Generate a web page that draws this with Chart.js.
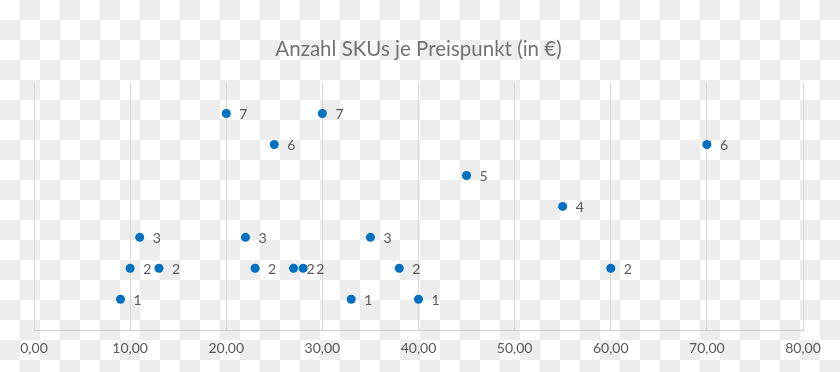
<!DOCTYPE html>
<html>
<head>
<meta charset="utf-8">
<script src="https://cdn.jsdelivr.net/npm/chart.js@4.4.1/dist/chart.umd.min.js"></script>
<style>
  html, body { margin: 0; padding: 0; background: #ffffff; }
  body { width: 840px; height: 372px; overflow: hidden; }
  #wrap { position: relative; width: 840px; height: 372px; }
</style>
</head>
<body>
<div id="wrap"><canvas id="c" width="840" height="372"></canvas></div>
<script>
const chartTitle = 'Anzahl SKUs je Preispunkt (in €)';
const prices = [9, 10, 11, 13, 20, 22, 23, 25, 27, 28, 30, 33, 35, 38, 40, 45, 55, 60, 70];
const skuCounts = [1, 2, 3, 2, 7, 3, 2, 6, 2, 2, 7, 1, 3, 2, 1, 5, 4, 2, 6];
const xTickLabels = ['0,00', '10,00', '20,00', '30,00', '40,00', '50,00', '60,00', '70,00', '80,00'];

const points = prices.map((p, i) => ({ x: p, y: skuCounts[i] }));

const FONT = 'Lato, "Open Sans", "Noto Sans", sans-serif';

// transparency-style checkerboard backdrop
const checkerPlugin = {
  id: 'checker',
  beforeDraw(chart) {
    const ctx = chart.ctx;
    const W = chart.width, H = chart.height, S = 20;
    ctx.save();
    ctx.fillStyle = '#ffffff';
    ctx.fillRect(0, 0, W, H);
    ctx.fillStyle = '#ededed';
    for (let r = 0; r * S < H; r++) {
      for (let c = 0; c * S < W; c++) {
        if ((r + c) % 2 === 1) ctx.fillRect(c * S, r * S, S, S);
      }
    }
    ctx.restore();
  }
};

const dataLabelPlugin = {
  id: 'pointLabels',
  afterDatasetsDraw(chart) {
    const ctx = chart.ctx;
    const meta = chart.getDatasetMeta(0);
    ctx.save();
    ctx.font = '14px ' + FONT;
    ctx.fillStyle = '#595959';
    ctx.textAlign = 'left';
    ctx.textBaseline = 'middle';
    meta.data.forEach((el, i) => {
      ctx.fillText(String(skuCounts[i]), el.x + 13, el.y + 1);
    });
    ctx.restore();
  }
};

new Chart(document.getElementById('c'), {
  type: 'scatter',
  data: {
    datasets: [{
      data: points,
      backgroundColor: '#0070c0',
      borderColor: '#0070c0',
      pointRadius: 4.5,
      pointHoverRadius: 4.5,
      pointBorderWidth: 0
    }]
  },
  options: {
    responsive: false,
    animation: false,
    events: [],
    layout: { padding: { left: 34, right: 37, top: 0, bottom: 5 } },
    plugins: {
      legend: { display: false },
      tooltip: { enabled: false },
      title: {
        display: true,
        text: chartTitle,
        color: '#737373',
        font: { family: FONT, size: 20.5, weight: 'normal', lineHeight: 1.2 },
        padding: { top: 37, bottom: 21 }
      }
    },
    scales: {
      x: {
        type: 'linear',
        min: 0,
        max: 80,
        ticks: {
          stepSize: 10,
          padding: 10,
          color: '#595959',
          font: { family: FONT, size: 14 },
          callback: (v, i) => xTickLabels[i]
        },
        grid: { color: '#d9d9d9', lineWidth: 1, drawTicks: false },
        border: { display: true, color: '#d0d0d0', width: 1 }
      },
      y: {
        display: false,
        min: 0,
        max: 8
      }
    }
  },
  plugins: [checkerPlugin, dataLabelPlugin]
});
</script>
</body>
</html>
